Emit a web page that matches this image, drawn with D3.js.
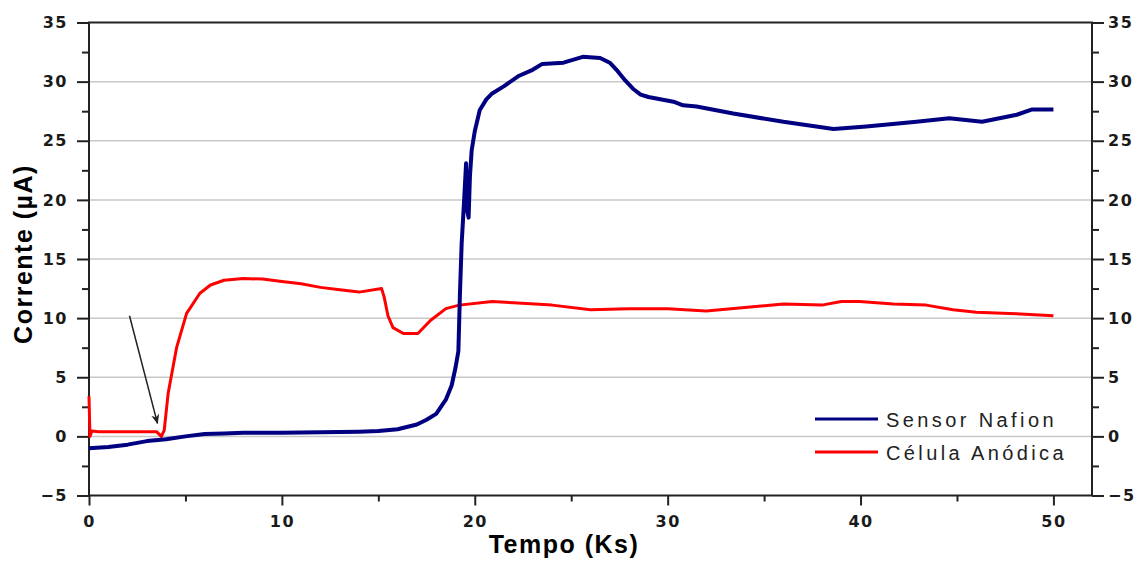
<!DOCTYPE html>
<html>
<head>
<meta charset="utf-8">
<script src="https://cdn.jsdelivr.net/npm/d3@7"></script>
<style>
  body { margin: 0; background: #fff; }
  svg { display: block; }
</style>
</head>
<body>
<div id="chart"></div>
<script>
// Sensor Nafion (blue) - time in Ks, current in uA
const nafionT = [0, 1, 2, 3, 4, 5, 6, 7, 8, 10, 12, 14, 15, 16, 17, 17.5, 18, 18.5, 18.8, 19.0, 19.15, 19.23, 19.32, 19.45, 19.55, 19.62, 19.68, 19.75, 19.84, 20.0, 20.26, 20.6, 20.9, 21.5, 22.3, 23.0, 23.5, 24.6, 25.6, 26.5, 27.0, 27.4, 27.8, 28.2, 28.6, 29, 30.3, 30.8, 31.5, 33.4, 36, 38.6, 40.3, 42.9, 44.6, 46.3, 48.1, 48.9, 50]
const nafionI = [-1.0, -0.9, -0.7, -0.4, -0.25, 0.0, 0.2, 0.25, 0.3, 0.3, 0.35, 0.4, 0.45, 0.6, 1.0, 1.4, 1.9, 3.1, 4.3, 5.8, 7.2, 12, 16.3, 20, 23.1, 19, 18.5, 22, 24.2, 25.8, 27.6, 28.5, 29.0, 29.6, 30.5, 31.0, 31.5, 31.6, 32.1, 32.0, 31.6, 30.9, 30.1, 29.4, 28.9, 28.7, 28.3, 28.0, 27.9, 27.3, 26.6, 26.0, 26.2, 26.6, 26.9, 26.6, 27.2, 27.65, 27.65]

// Celula Anodica (red)
const anodT = [0, 0.05, 0.15, 0.5, 3.5, 3.75, 3.9, 4.1, 4.54, 5.06, 5.75, 6.3, 7, 8, 9, 10, 11, 12, 13, 14, 15.17, 15.3, 15.5, 15.76, 16.3, 17.05, 17.7, 18.5, 19.2, 20.9, 22, 24, 26, 28, 30, 32, 34, 36, 38, 39, 39.95, 41.7, 43.4, 44.8, 46, 47.7, 50]
const anodI = [3.4, 0.0, 0.45, 0.4, 0.4, 0.0, 0.5, 3.6, 7.5, 10.4, 12.1, 12.8, 13.2, 13.35, 13.3, 13.1, 12.9, 12.6, 12.4, 12.2, 12.5, 11.8, 10.2, 9.2, 8.7, 8.7, 9.8, 10.8, 11.1, 11.4, 11.3, 11.1, 10.7, 10.8, 10.8, 10.6, 10.9, 11.2, 11.1, 11.4, 11.4, 11.2, 11.1, 10.7, 10.5, 10.4, 10.2]

const yTicks = [-5, 0, 5, 10, 15, 20, 25, 30, 35]
const yMinor = [-2.5, 2.5, 7.5, 12.5, 17.5, 22.5, 27.5, 32.5]
const xTicks = [0, 10, 20, 30, 40, 50]
const xMinor = [5, 15, 25, 35, 45]
const seriesNames = ['Sensor Nafion', 'Célula Anódica']
const seriesColors = ['#000080', '#ff0000']
// arrow annotation: from / to in data units
const arrowFrom = [2.1, 10.2]
const arrowTo = [3.55, 1.1]

const width = 1142, height = 563
const margin = ({ top: 22.5, right: 50, bottom: 67.5, left: 89 })

const svg = d3.select('#chart').append('svg')
    .attr('width', width)
    .attr('height', height)

const x = d3.scaleLinear()
    .domain([0, 52])
    .range([margin.left, width - margin.right])
const y = d3.scaleLinear()
    .domain([-5, 35])
    .range([height - margin.bottom, margin.top])

const tickFont = g => g.selectAll('text')
    .attr('font-family', 'DejaVu Sans, sans-serif')
    .attr('font-weight', 'bold')
    .attr('font-size', 16)
    .attr('letter-spacing', 1.5)
    .attr('fill', '#1a1a1a')

// grid
svg.append('g')
    .selectAll('line')
    .data(yTicks.filter(d => d > -5 && d < 35))
    .join('line')
    .attr('x1', x.range()[0]).attr('x2', x.range()[1])
    .attr('y1', d => y(d)).attr('y2', d => y(d))
    .attr('stroke', '#c8c8c8')
    .attr('stroke-width', 1.5)

const styleAxis = g => {
    g.select('.domain').remove()
    g.selectAll('.tick line').attr('stroke', '#222').attr('stroke-width', 2)
}

// minor ticks
svg.append('g')
    .attr('transform', `translate(${x.range()[0]},0)`)
    .call(d3.axisLeft(y).tickValues(yMinor).tickSize(7).tickFormat(''))
    .call(styleAxis)
svg.append('g')
    .attr('transform', `translate(${x.range()[1]},0)`)
    .call(d3.axisRight(y).tickValues(yMinor).tickSize(7).tickFormat(''))
    .call(styleAxis)
svg.append('g')
    .attr('transform', `translate(0,${y.range()[0]})`)
    .call(d3.axisBottom(x).tickValues(xMinor).tickSize(6).tickFormat(''))
    .call(styleAxis)

// major ticks
svg.append('g')
    .attr('transform', `translate(${x.range()[0]},0)`)
    .call(d3.axisLeft(y).tickValues(yTicks).tickSize(12).tickPadding(9).tickFormat(d3.format('d')))
    .call(styleAxis)
    .call(tickFont)
svg.append('g')
    .attr('transform', `translate(${x.range()[1]},0)`)
    .call(d3.axisRight(y).tickValues(yTicks).tickSize(12).tickPadding(4).tickFormat(d3.format('d')))
    .call(styleAxis)
    .call(tickFont)
svg.append('g')
    .attr('transform', `translate(0,${y.range()[0]})`)
    .call(d3.axisBottom(x).tickValues(xTicks).tickSize(10).tickPadding(10).tickFormat(d3.format('d')))
    .call(styleAxis)
    .call(tickFont)

// frame
svg.append('rect')
    .attr('x', x.range()[0]).attr('y', y.range()[1])
    .attr('width', x.range()[1] - x.range()[0])
    .attr('height', y.range()[0] - y.range()[1])
    .attr('fill', 'none')
    .attr('stroke', '#222')
    .attr('stroke-width', 2)

// lines
const line = d3.line()
    .x(d => x(d[0]))
    .y(d => y(d[1]))

svg.append('path')
    .datum(d3.zip(anodT, anodI))
    .attr('fill', 'none')
    .attr('stroke', seriesColors[1])
    .attr('stroke-width', 3)
    .attr('stroke-linejoin', 'round')
    .attr('d', line)

svg.append('path')
    .datum(d3.zip(nafionT, nafionI))
    .attr('fill', 'none')
    .attr('stroke', seriesColors[0])
    .attr('stroke-width', 4)
    .attr('stroke-linejoin', 'round')
    .attr('d', line)

// arrow
svg.append('defs').append('marker')
    .attr('id', 'head')
    .attr('viewBox', '0 0 10 10')
    .attr('refX', 9).attr('refY', 5)
    .attr('markerWidth', 10).attr('markerHeight', 10)
    .attr('markerUnits', 'userSpaceOnUse')
    .attr('orient', 'auto')
    .append('path')
    .attr('d', 'M0,1 L10,5 L0,9 L3,5 Z')
    .attr('fill', '#222')

svg.append('line')
    .attr('x1', x(arrowFrom[0])).attr('y1', y(arrowFrom[1]))
    .attr('x2', x(arrowTo[0])).attr('y2', y(arrowTo[1]))
    .attr('stroke', '#222')
    .attr('stroke-width', 1.5)
    .attr('marker-end', 'url(#head)')

// legend
const legend = svg.append('g')
    .attr('transform', 'translate(815,419)')
legend.selectAll('line')
    .data(seriesNames)
    .join('line')
    .attr('x1', 0).attr('x2', 63)
    .attr('y1', (d, i) => i * 33).attr('y2', (d, i) => i * 33)
    .attr('stroke', (d, i) => seriesColors[i])
    .attr('stroke-width', 3)
legend.selectAll('text')
    .data(seriesNames)
    .join('text')
    .attr('x', 71)
    .attr('y', (d, i) => i * 33 + 8)
    .attr('font-family', 'Liberation Sans, Arial, sans-serif')
    .attr('font-size', 20)
    .attr('letter-spacing', 3.4)
    .attr('fill', '#222')
    .text(d => d)

// axis titles
svg.append('text')
    .attr('x', 564).attr('y', 553)
    .attr('text-anchor', 'middle')
    .attr('font-family', 'Liberation Sans, Arial, sans-serif')
    .attr('font-weight', 'bold')
    .attr('font-size', 25)
    .attr('letter-spacing', 1.5)
    .text('Tempo (Ks)')

svg.append('text')
    .attr('transform', 'translate(32,254) rotate(-90)')
    .attr('text-anchor', 'middle')
    .attr('font-family', 'Liberation Sans, Arial, sans-serif')
    .attr('font-weight', 'bold')
    .attr('font-size', 25)
    .attr('letter-spacing', 1.5)
    .text('Corrente (µA)')
</script>
</body>
</html>
